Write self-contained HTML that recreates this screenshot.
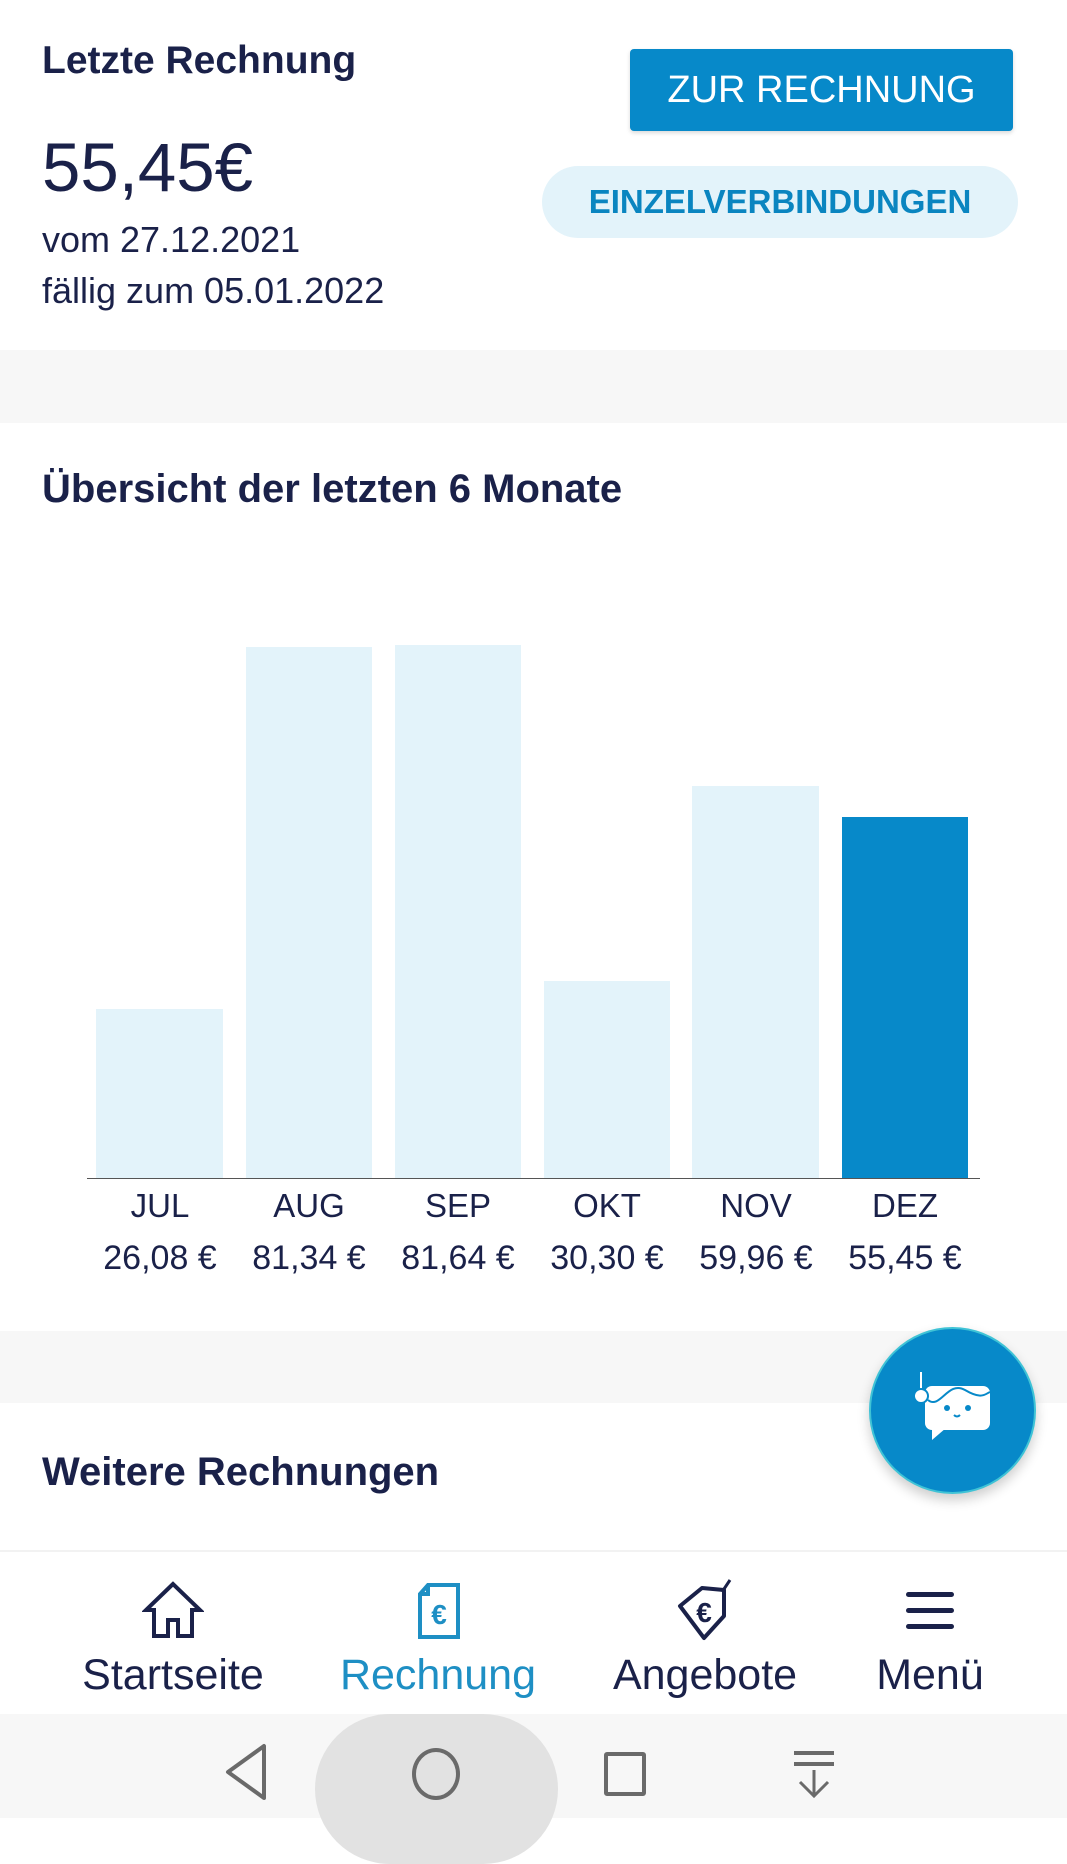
<!DOCTYPE html>
<html><head><meta charset="utf-8"><style>
*{margin:0;padding:0;box-sizing:border-box}
body{width:1067px;height:1818px;position:relative;background:#fff;font-family:"Liberation Sans",sans-serif;color:#1a2149;overflow:hidden}
.a{position:absolute;white-space:nowrap}
.t{line-height:1}
.b{font-weight:bold}
.bar{position:absolute;background:#e3f3fa}
.ml{position:absolute;width:150px;text-align:center;font-size:33px;line-height:1}
.mv{font-size:34px}
</style></head><body>
<div class="a t b" style="left:42px;top:41px;font-size:39px">Letzte Rechnung</div>
<div class="a" style="left:630px;top:49px;width:383px;height:82px;background:#0789c9;border-radius:4px;box-shadow:0 2px 4px rgba(0,0,0,.15);color:#fff;font-size:38px;line-height:82px;text-align:center">ZUR RECHNUNG</div>
<div class="a" style="left:542px;top:166px;width:476px;height:72px;background:#e3f3fa;border-radius:36px;color:#0a85c0;font-size:33px;font-weight:bold;line-height:72px;text-align:center">EINZELVERBINDUNGEN</div>
<div class="a t" style="left:42px;top:133px;font-size:69px">55,45€</div>
<div class="a t" style="left:42px;top:222px;font-size:36px">vom 27.12.2021</div>
<div class="a t" style="left:42px;top:273px;font-size:36px">fällig zum 05.01.2022</div>
<div class="a" style="left:0;top:350px;width:1067px;height:73px;background:#f7f7f7"></div>
<div class="a t b" style="left:42px;top:469px;font-size:40px">Übersicht der letzten 6 Monate</div>
<div class="bar" style="left:96px;top:1009px;width:127px;height:169px"></div>
<div class="bar" style="left:246px;top:647px;width:126px;height:531px"></div>
<div class="bar" style="left:395px;top:645px;width:126px;height:533px"></div>
<div class="bar" style="left:544px;top:981px;width:126px;height:197px"></div>
<div class="bar" style="left:692px;top:786px;width:127px;height:392px"></div>
<div class="bar" style="left:842px;top:817px;width:126px;height:361px;background:#0789c9"></div>
<div class="a" style="left:87px;top:1178px;width:893px;height:1px;background:#555"></div>
<div class="ml" style="left:85px;top:1189px">JUL</div><div class="ml" style="left:234px;top:1189px">AUG</div><div class="ml" style="left:383px;top:1189px">SEP</div><div class="ml" style="left:532px;top:1189px">OKT</div><div class="ml" style="left:681px;top:1189px">NOV</div><div class="ml" style="left:830px;top:1189px">DEZ</div>
<div class="ml mv" style="left:85px;top:1241px">26,08 €</div><div class="ml mv" style="left:234px;top:1241px">81,34 €</div><div class="ml mv" style="left:383px;top:1241px">81,64 €</div><div class="ml mv" style="left:532px;top:1241px">30,30 €</div><div class="ml mv" style="left:681px;top:1241px">59,96 €</div><div class="ml mv" style="left:830px;top:1241px">55,45 €</div>
<div class="a" style="left:0;top:1331px;width:1067px;height:72px;background:#f7f7f7"></div>
<div class="a t b" style="left:42px;top:1452px;font-size:40px">Weitere Rechnungen</div>
<div class="a" style="left:0;top:1550px;width:1067px;height:2px;background:#f2f2f2"></div>
<div class="a" style="left:869px;top:1327px;width:167px;height:167px;border-radius:50%;background:#0789c9;border:2px solid #3fc3d6;box-shadow:0 6px 12px rgba(0,0,0,.2)"></div>
<svg class="a" style="left:910px;top:1370px" width="85" height="80" viewBox="0 0 85 80">
<line x1="11" y1="2" x2="11" y2="22" stroke="#fff" stroke-width="2"/>
<rect x="15" y="16" width="65" height="44" rx="7" fill="#fff"/><path d="M22 58 L22 70 L36 58Z" fill="#fff"/>
<circle cx="11" cy="26" r="7" fill="#fff" stroke="#0789c9" stroke-width="2"/>
<path d="M18 30 C30 40,38 10,55 20 S75 24,80 22" stroke="#0789c9" stroke-width="2" fill="none"/>
<circle cx="37" cy="38" r="3" fill="#0789c9"/><circle cx="58" cy="38" r="3" fill="#0789c9"/>
<path d="M44 45 q3 3 6 0" stroke="#0789c9" stroke-width="2" fill="none"/></svg>
<svg class="a" style="left:142px;top:1580px" width="62" height="60" viewBox="0 0 62 60"><path d="M31 4 L4 30 H12 V56 H26 V40 H36 V56 H50 V30 H58 Z" fill="none" stroke="#1a2149" stroke-width="4" stroke-linejoin="miter"/></svg>
<svg class="a" style="left:416px;top:1582px" width="46" height="58" viewBox="0 0 46 58"><path d="M12 3 H42 V55 H4 V12 Z M4 12 H12 V3" fill="none" stroke="#1e8fc4" stroke-width="4"/><text x="23" y="42" font-size="28" font-weight="bold" fill="#1e8fc4" text-anchor="middle" font-family="Liberation Sans">€</text></svg>
<svg class="a" style="left:672px;top:1578px" width="66" height="64" viewBox="0 0 66 64"><path d="M8 28 L30 10 L52 12 L52 38 L32 60 Z" fill="none" stroke="#1a2149" stroke-width="4" stroke-linejoin="round"/><line x1="50" y1="14" x2="58" y2="2" stroke="#1a2149" stroke-width="3"/><text x="32" y="44" font-size="28" font-weight="bold" fill="#1a2149" text-anchor="middle" font-family="Liberation Sans">€</text></svg>
<div class="a" style="left:906px;top:1592px;width:48px;height:5px;background:#1a2149;border-radius:3px"></div>
<div class="a" style="left:906px;top:1608px;width:48px;height:5px;background:#1a2149;border-radius:3px"></div>
<div class="a" style="left:906px;top:1624px;width:48px;height:5px;background:#1a2149;border-radius:3px"></div>
<div class="a t" style="left:73px;top:1654px;width:200px;text-align:center;font-size:43px">Startseite</div>
<div class="a t" style="left:338px;top:1654px;width:200px;text-align:center;font-size:43px;color:#1e8fc4">Rechnung</div>
<div class="a t" style="left:605px;top:1654px;width:200px;text-align:center;font-size:43px">Angebote</div>
<div class="a t" style="left:830px;top:1654px;width:200px;text-align:center;font-size:43px">Menü</div>
<div class="a" style="left:0;top:1714px;width:1067px;height:104px;background:#f7f7f7"></div>
<div class="a" style="left:315px;top:1714px;width:243px;height:150px;border-radius:120px;background:#e2e2e2"></div>
<svg class="a" style="left:220px;top:1740px" width="60" height="64"><path d="M44 6 V58 L8 32 Z" fill="none" stroke="#6a6a6a" stroke-width="4" stroke-linejoin="round"/></svg>
<div class="a" style="left:412px;top:1748px;width:48px;height:52px;border-radius:50%;border:4px solid #6a6a6a"></div>
<div class="a" style="left:604px;top:1752px;width:42px;height:44px;border:4px solid #6a6a6a;border-radius:3px"></div>
<svg class="a" style="left:792px;top:1750px" width="44" height="50"><line x1="2" y1="3" x2="42" y2="3" stroke="#6a6a6a" stroke-width="4"/><line x1="2" y1="14" x2="42" y2="14" stroke="#6a6a6a" stroke-width="4"/><path d="M22 20 V46 M8 32 L22 46 L36 32" fill="none" stroke="#6a6a6a" stroke-width="3"/></svg>
</body></html>
